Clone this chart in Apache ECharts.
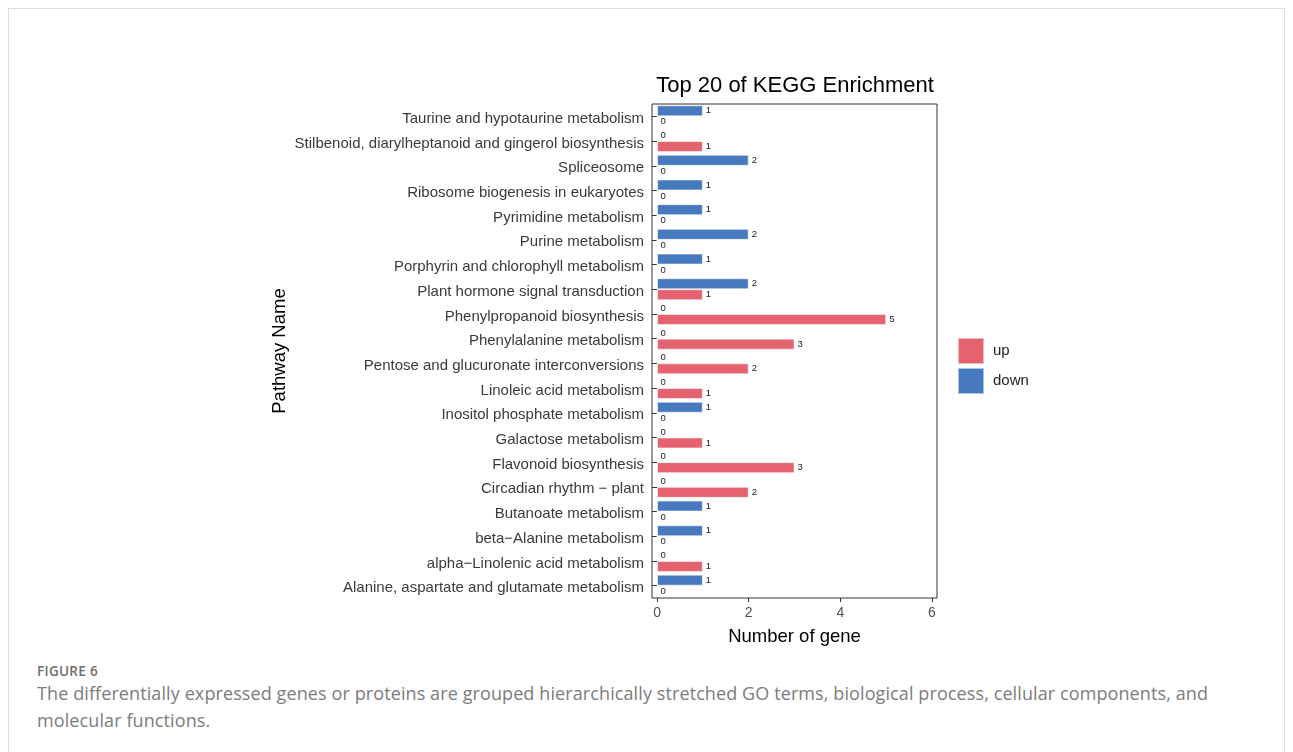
<!DOCTYPE html>
<html>
<head>
<meta charset="utf-8">
<script src="https://cdn.jsdelivr.net/npm/echarts@6/dist/echarts.min.js"></script>
<style>
  html, body { margin: 0; padding: 0; background: #fff; }
  .card {
    position: absolute; left: 8px; top: 8px; width: 1277px; height: 800px;
    border: 1px solid #dcdcdc; box-sizing: border-box;
  }
  #chart { position: absolute; left: 0; top: 0; width: 1293px; height: 655px; }
  .caption {
    position: absolute; left: 37px; top: 662px; width: 1245px;
    font-family: "Open Sans", "Noto Sans", sans-serif; color: #7c7c7c;
  }
  .caption .fig { font-size: 13.5px; font-weight: 600; letter-spacing: 0.3px; color: #6e6e6e; margin-bottom: 0; }
  .caption .txt { font-size: 18px; line-height: 27px; letter-spacing: 0.1px; white-space: nowrap; }
</style>
</head>
<body>
<div class="card"></div>
<div id="chart"></div>
<div class="caption">
  <div class="fig">FIGURE 6</div>
  <div class="txt">The differentially expressed genes or proteins are grouped hierarchically stretched GO terms, biological process, cellular components, and<br>molecular functions.</div>
</div>
<script>
(function(window, echarts) {
    var pathways = [
        'Taurine and hypotaurine metabolism',
        'Stilbenoid, diarylheptanoid and gingerol biosynthesis',
        'Spliceosome',
        'Ribosome biogenesis in eukaryotes',
        'Pyrimidine metabolism',
        'Purine metabolism',
        'Porphyrin and chlorophyll metabolism',
        'Plant hormone signal transduction',
        'Phenylpropanoid biosynthesis',
        'Phenylalanine metabolism',
        'Pentose and glucuronate interconversions',
        'Linoleic acid metabolism',
        'Inositol phosphate metabolism',
        'Galactose metabolism',
        'Flavonoid biosynthesis',
        'Circadian rhythm \u2212 plant',
        'Butanoate metabolism',
        'beta\u2212Alanine metabolism',
        'alpha\u2212Linolenic acid metabolism',
        'Alanine, aspartate and glutamate metabolism'
    ];
    var downCounts = [1, 0, 2, 1, 1, 2, 1, 2, 0, 0, 0, 0, 1, 0, 0, 0, 1, 1, 0, 1];
    var upCounts   = [0, 1, 0, 0, 0, 0, 0, 1, 5, 3, 2, 1, 0, 1, 3, 2, 0, 0, 1, 0];
    var xTicks = [0, 2, 4, 6];

    var font = '"Liberation Sans", Arial, sans-serif';
    var colors = { up: '#E4636F', down: '#4779BE' };

    var chart = echarts.init(document.getElementById('chart'));

    function barSeries(name, data) {
        return {
            name: name,
            type: 'bar',
            data: data,
            barWidth: 11,
            barGap: '0%',
            itemStyle: { color: colors[name], borderColor: 'rgba(255,255,255,0.55)', borderWidth: 1 },
            label: {
                show: true, position: 'right', distance: 3,
                fontSize: 9.5, color: '#222', fontFamily: font
            },
            emphasis: { disabled: true },
            animation: false
        };
    }

    var option = {
        textStyle: { fontFamily: font },
        title: {
            text: 'Top 20 of KEGG Enrichment',
            left: 790, top: 70, textAlign: 'center',
            textStyle: { fontSize: 22, fontWeight: 'normal', color: '#000', fontFamily: font }
        },
        legend: {
            data: ['up', 'down'],
            orient: 'vertical',
            left: 957, top: 337, padding: 0,
            itemWidth: 26, itemHeight: 26, itemGap: 2,
            icon: 'rect',
            textStyle: { fontSize: 15, color: '#222', fontFamily: font, padding: [0, 0, 0, 4] },
            selectedMode: false
        },
        grid: {
            left: 652, top: 104, width: 285, height: 494,
            outerBoundsMode: 'none', containLabel: false,
            show: true, borderColor: '#333', borderWidth: 1, backgroundColor: '#fff'
        },
        xAxis: {
            type: 'value', min: -0.11, max: 6.11,
            axisLine: { show: false },
            splitLine: { show: false },
            axisTick: { show: true, customValues: xTicks, length: 4, lineStyle: { color: '#333' } },
            axisLabel: { customValues: xTicks, fontSize: 14, color: '#4d4d4d', margin: 8, fontFamily: font },
            name: 'Number of gene', nameLocation: 'middle', nameGap: 29,
            nameTextStyle: { fontSize: 18.5, color: '#000', fontFamily: font }
        },
        yAxis: {
            type: 'category', data: pathways, inverse: true,
            axisLine: { show: false },
            axisTick: { show: true, alignWithLabel: true, length: 5, lineStyle: { color: '#333' } },
            axisLabel: {
                margin: 8,
                formatter: function(v) { return '{p|' + v + '}'; },
                rich: { p: { fontSize: 15, color: '#3a3a3a', fontFamily: font, padding: [5, 0, 0, 0] } }
            },
            name: 'Pathway Name', nameLocation: 'middle', nameRotate: 90, nameGap: 363,
            nameTextStyle: { fontSize: 18.5, color: '#000', fontFamily: font }
        },
        series: [barSeries('down', downCounts), barSeries('up', upCounts)]
    };
    chart.setOption(option);
    window.chart = chart;
})(window, echarts);
</script>
</body>
</html>
